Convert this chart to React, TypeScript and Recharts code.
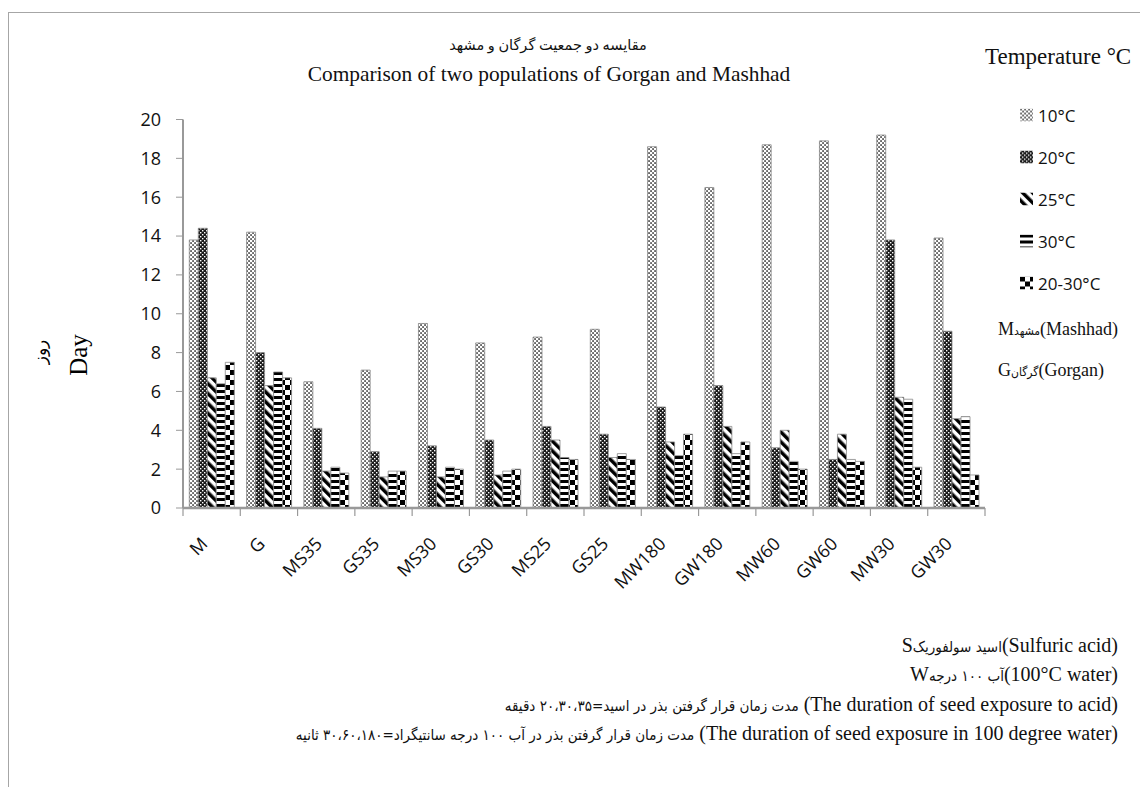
import React from "react";
import { BarChart, Bar, XAxis, YAxis } from "recharts";

const categories = ["M", "G", "MS35", "GS35", "MS30", "GS30", "MS25", "GS25", "MW180", "GW180", "MW60", "GW60", "MW30", "GW30"];
const t10 = [13.8, 14.2, 6.5, 7.1, 9.5, 8.5, 8.8, 9.2, 18.6, 16.5, 18.7, 18.9, 19.2, 13.9];
const t20 = [14.4, 8.0, 4.1, 2.9, 3.2, 3.5, 4.2, 3.8, 5.2, 6.3, 3.1, 2.5, 13.8, 9.1];
const t25 = [6.7, 6.3, 1.9, 1.6, 1.6, 1.7, 3.5, 2.6, 3.4, 4.2, 4.0, 3.8, 5.7, 4.6];
const t30 = [6.4, 7.0, 2.1, 1.9, 2.1, 1.9, 2.6, 2.8, 2.7, 2.8, 2.4, 2.5, 5.6, 4.7];
const t2030 = [7.5, 6.7, 1.8, 1.9, 2.0, 2.0, 2.5, 2.5, 3.8, 3.4, 2.0, 2.4, 2.1, 1.7];
const seriesNames = ["10°C", "20°C", "25°C", "30°C", "20-30°C"];
const yTicks = [0, 2, 4, 6, 8, 10, 12, 14, 16, 18, 20];

const data = categories.map((c, i) => ({
  name: c,
  "10°C": t10[i],
  "20°C": t20[i],
  "25°C": t25[i],
  "30°C": t30[i],
  "20-30°C": t2030[i],
}));

const patternIds = ["p10", "p20", "p25", "p30", "p2030"];

const W = 1140;
const H = 787;
const margin = { top: 119.5, right: 155, bottom: 219, left: 123 };
const plotW = W - margin.left - 60 - margin.right;
const band = plotW / categories.length;

const serif = "'Liberation Serif', 'Times New Roman', 'DejaVu Sans', serif";
const sans = "'Open Sans', 'DejaVu Sans', sans-serif";

function Patterns() {
  return (
    <svg width={0} height={0} style={{ position: "absolute" }}>
      <defs>
        <pattern id="p10" width={4} height={4} patternUnits="userSpaceOnUse">
          <rect width={4} height={4} fill="#fff" />
          <rect x={0.3} y={0.3} width={1.5} height={1.5} fill="#111" />
          <rect x={2.3} y={2.3} width={1.5} height={1.5} fill="#111" />
        </pattern>
        <pattern id="p20" width={4} height={4} patternUnits="userSpaceOnUse">
          <rect width={4} height={4} fill="#1a1a1a" />
          <rect x={0} y={0} width={1.4} height={1.4} fill="#fff" />
          <rect x={2} y={2} width={1.4} height={1.4} fill="#fff" />
        </pattern>
        <pattern id="p25" width={7} height={7} patternUnits="userSpaceOnUse" patternTransform="rotate(-45)">
          <rect width={7} height={7} fill="#fff" />
          <rect width={3.5} height={7} fill="#000" />
        </pattern>
        <pattern id="p30" width={6} height={6} patternUnits="userSpaceOnUse">
          <rect width={6} height={6} fill="#fff" />
          <rect y={0} width={6} height={3} fill="#000" />
        </pattern>
        <pattern id="p2030" width={10} height={10} patternUnits="userSpaceOnUse">
          <rect width={10} height={10} fill="#fff" />
          <rect x={0} y={0} width={5} height={5} fill="#000" />
          <rect x={5} y={5} width={5} height={5} fill="#000" />
        </pattern>
      </defs>
    </svg>
  );
}

function XTick(props: any) {
  const { x, y, payload, index } = props;
  const half = band / 2;
  const ax = x - 3;
  const ay = y + 37;
  return (
    <g>
      <line x1={x - half} y1={y} x2={x - half} y2={y + 8} stroke="#999" strokeWidth={1.2} />
      {index === categories.length - 1 && (
        <line x1={x + half} y1={y} x2={x + half} y2={y + 8} stroke="#999" strokeWidth={1.2} />
      )}
      <text
        x={ax}
        y={ay}
        transform={`rotate(-45, ${ax}, ${ay})`}
        textAnchor="end"
        fontFamily={sans}
        fontSize={18}
        fill="#111"
      >
        {payload.value}
      </text>
    </g>
  );
}

function Text({ x, y, size, children, anchor = "left", family = serif, style = {} }: any) {
  const tx = anchor === "center" ? "translate(-50%, -50%)" : anchor === "right" ? "translate(-100%, -50%)" : "translate(0, -50%)";
  return (
    <div
      dir="ltr"
      style={{
        position: "absolute",
        left: x,
        top: y,
        transform: tx,
        whiteSpace: "nowrap",
        fontFamily: family,
        fontSize: size,
        color: "#111",
        lineHeight: 1.2,
        ...style,
      }}
    >
      {children}
    </div>
  );
}

// right-to-left note line, right edge fixed
function Note({ y, children }: any) {
  return (
    <div
      dir="rtl"
      style={{
        position: "absolute",
        right: W - 1118,
        top: y,
        transform: "translateY(-50%)",
        whiteSpace: "nowrap",
        textAlign: "right",
        fontFamily: serif,
        fontSize: 20,
        color: "#111",
        lineHeight: 1.2,
      }}
    >
      {children}
    </div>
  );
}

const ib: React.CSSProperties = { display: "inline-block" };
const fa: React.CSSProperties = {
  fontFamily: "'DejaVu Sans Condensed', 'DejaVu Sans', sans-serif",
  fontStretch: "condensed",
  fontSize: 15,
};

export default function App() {
  return (
    <div style={{ position: "absolute", left: 0, top: 0, width: W, height: H, background: "#fff", overflow: "hidden" }}>
      <Patterns />
      <div style={{ position: "absolute", left: 8, top: 12, width: W, height: H, borderLeft: "1.5px solid #a6a6a6", borderTop: "1.5px solid #a6a6a6" }} />
      <div style={{ position: "absolute", left: 0, top: 0 }}>
        <BarChart width={W} height={H} data={data} margin={margin} barCategoryGap="11%" barGap={0}>
          <XAxis
            dataKey="name"
            interval={0}
            height={60}
            tickSize={0}
            tickMargin={0}
            tickLine={false}
            axisLine={{ stroke: "#999", strokeWidth: 2.5 }}
            tick={<XTick />}
          />
          <YAxis
            domain={[0, 20]}
            ticks={yTicks}
            width={60}
            tickSize={7}
            tickMargin={15}
            tickLine={{ stroke: "#999" }}
            axisLine={{ stroke: "#999", strokeWidth: 2 }}
            tick={{ fontFamily: sans, fontSize: 18, fill: "#111" }}
          />
          {seriesNames.map((s, i) => (
            <Bar
              key={s}
              dataKey={s}
              fill={`url(#${patternIds[i]})`}
              stroke="#888"
              strokeWidth={0.8}
              isAnimationActive={false}
            />
          ))}
        </BarChart>
      </div>

      <Text x={548} y={46} size={14.5} anchor="center"><span dir="rtl" style={ib}>مقایسه دو جمعیت گرگان و مشهد</span></Text>
      <Text x={549} y={75} size={21.4} anchor="center">Comparison of two populations of Gorgan and Mashhad</Text>

      <Text x={985} y={57} size={23}>Temperature °C</Text>
      {seriesNames.map((s, i) => (
        <div key={s} style={{ position: "absolute", left: 1020, top: 115 + i * 42, transform: "translateY(-50%)", display: "flex", alignItems: "center" }}>
          <svg width={13} height={13} style={{ marginRight: 5 }}>
            <rect width={13} height={13} fill={`url(#${patternIds[i]})`} />
          </svg>
          <span style={{ fontFamily: sans, fontSize: 17, color: "#111" }}>{s}</span>
        </div>
      ))}
      <Text x={998} y={330} size={18}>
        <span style={ib}>M</span>
        <span dir="rtl" style={{ ...ib, ...fa, fontSize: 12 }}>مشهد</span>
        <span style={ib}>(Mashhad)</span>
      </Text>
      <Text x={998} y={371} size={18}>
        <span style={ib}>G</span>
        <span dir="rtl" style={{ ...ib, ...fa, fontSize: 12 }}>گرگان</span>
        <span style={ib}>(Gorgan)</span>
      </Text>

      <div style={{ position: "absolute", left: 40, top: 352, transform: "translate(-50%, -50%) rotate(-90deg)", fontFamily: serif, fontSize: 17, whiteSpace: "nowrap" }} dir="rtl">روز</div>
      <div style={{ position: "absolute", left: 79, top: 355, transform: "translate(-50%, -50%) rotate(-90deg)", fontFamily: serif, fontSize: 25, whiteSpace: "nowrap" }}>Day</div>

      <Note y={645}>(Sulfuric acid)<span style={fa}>اسید سولفوریک</span>S</Note>
      <Note y={674}>(100°C water)<span style={fa}>آب ۱۰۰ درجه</span>W</Note>
      <Note y={704}>(The duration of seed exposure to acid) <span style={fa}>مدت زمان قرار گرفتن بذر در اسید=۲۰،۳۰،۳۵ دقیقه</span></Note>
      <Note y={733}>(The duration of seed exposure in 100 degree water) <span style={fa}>مدت زمان قرار گرفتن بذر در آب ۱۰۰ درجه سانتیگراد=۳۰،۶۰،۱۸۰ ثانیه</span></Note>
    </div>
  );
}
